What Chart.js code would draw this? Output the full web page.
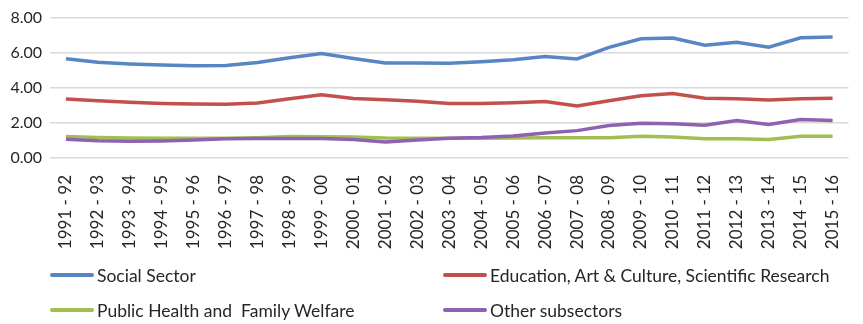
<!DOCTYPE html>
<html>
<head>
<meta charset="utf-8">
<script src="https://cdn.jsdelivr.net/npm/chart.js@4.4.1/dist/chart.umd.min.js"></script>
<style>
  html, body { margin: 0; padding: 0; background: #fff; overflow: hidden; }
  #wrap { position: absolute; left: 0; top: 0; width: 870px; height: 250px; }
  #legend { position: absolute; left: 0; top: 0; width: 863px; height: 324px; pointer-events: none;
            font-family: Lato, "Open Sans", sans-serif; font-size: 17.5px; color: #262626; }
  .item { position: absolute; display: flex; align-items: center; white-space: pre; }
  .swatch { width: 44px; height: 4px; border-radius: 2px; margin-right: 3px; }
</style>
</head>
<body>
<div id="wrap"><canvas id="chart"></canvas></div>
<div id="legend"></div>
<script>
const years = ['1991 - 92', '1992 - 93', '1993 - 94', '1994 - 95', '1995 - 96', '1996 - 97', '1997 - 98',
  '1998 - 99', '1999 - 00', '2000 - 01', '2001 - 02', '2002 - 03', '2003 - 04', '2004 - 05', '2005 - 06',
  '2006 - 07', '2007 - 08', '2008 - 09', '2009 - 10', '2010 - 11', '2011 - 12', '2012 - 13', '2013 - 14',
  '2014 - 15', '2015 - 16'];

const socialSector = [5.65, 5.45, 5.36, 5.30, 5.25, 5.27, 5.44, 5.71, 5.95, 5.67, 5.41, 5.42, 5.40,
  5.48, 5.60, 5.78, 5.64, 6.30, 6.79, 6.84, 6.43, 6.60, 6.31, 6.85, 6.90];
const education = [3.36, 3.26, 3.18, 3.11, 3.07, 3.06, 3.14, 3.38, 3.60, 3.39, 3.32, 3.24, 3.11,
  3.11, 3.15, 3.22, 2.96, 3.26, 3.55, 3.68, 3.41, 3.38, 3.31, 3.37, 3.41];
const publicHealth = [1.22, 1.17, 1.14, 1.13, 1.13, 1.13, 1.16, 1.22, 1.21, 1.20, 1.14, 1.13, 1.13,
  1.13, 1.14, 1.15, 1.15, 1.16, 1.24, 1.19, 1.09, 1.09, 1.06, 1.24, 1.24];
const otherSub = [1.07, 0.98, 0.95, 0.97, 1.02, 1.09, 1.11, 1.11, 1.11, 1.06, 0.91, 1.02, 1.13,
  1.17, 1.26, 1.42, 1.56, 1.85, 1.98, 1.95, 1.87, 2.14, 1.91, 2.19, 2.13];

const yTicks = [0, 2, 4, 6, 8];

const seriesNames = ['Social Sector', 'Education, Art & Culture, Scientific Research',
  'Public Health and  Family Welfare', 'Other subsectors'];
const seriesColors = ['#5886C4', '#C3504D', '#A2BE50', '#8F62B1'];

// legend slots: [left, centre y]
const legendSlots = [[50, 275], [443, 275], [50, 310], [443, 310]];

const font = "Lato, 'Open Sans', sans-serif";

function line(i, data, order) {
  return {
    label: seriesNames[i],
    data: data,
    borderColor: seriesColors[i],
    backgroundColor: seriesColors[i],
    borderWidth: 3.5,
    pointRadius: 0,
    tension: 0,
    fill: false,
    order: order
  };
}

const chart = new Chart(document.getElementById('chart'), {
  type: 'line',
  data: {
    labels: years,
    datasets: [
      line(0, socialSector, 3),
      line(1, education, 2),
      line(2, publicHealth, 1),
      line(3, otherSub, 0)
    ]
  },
  options: {
    responsive: true,
    maintainAspectRatio: false,
    animation: false,
    layout: { padding: { top: 14, right: 0, left: 0, bottom: 0 } },
    plugins: {
      legend: { display: false },
      tooltip: { enabled: false }
    },
    scales: {
      x: {
        offset: true,
        grid: { display: false, drawTicks: false },
        border: { display: false },
        ticks: {
          autoSkip: false,
          minRotation: 90,
          maxRotation: 90,
          padding: 17,
          color: '#262626',
          font: { family: font, size: 17 }
        },
        afterFit: s => { s.height = 92; }
      },
      y: {
        min: 0,
        max: 8,
        afterBuildTicks: s => { s.ticks = yTicks.map(v => ({ value: v })); },
        grid: { color: '#D9D9D9', lineWidth: 1.5, drawTicks: false },
        border: { display: false },
        ticks: {
          padding: 8,
          color: '#262626',
          font: { family: font, size: 16 },
          callback: v => v.toFixed(2)
        },
        afterFit: s => { s.width = 50; }
      }
    }
  }
});

// legend built from the chart's own datasets
const legend = document.getElementById('legend');
chart.data.datasets.forEach((ds, i) => {
  const item = document.createElement('div');
  item.className = 'item';
  item.style.left = legendSlots[i][0] + 'px';
  item.style.top = (legendSlots[i][1] - 11) + 'px';
  item.style.height = '22px';
  item.innerHTML = `<div class="swatch" style="background:${ds.borderColor}"></div><span>${ds.label}</span>`;
  legend.appendChild(item);
});
</script>
</body>
</html>
